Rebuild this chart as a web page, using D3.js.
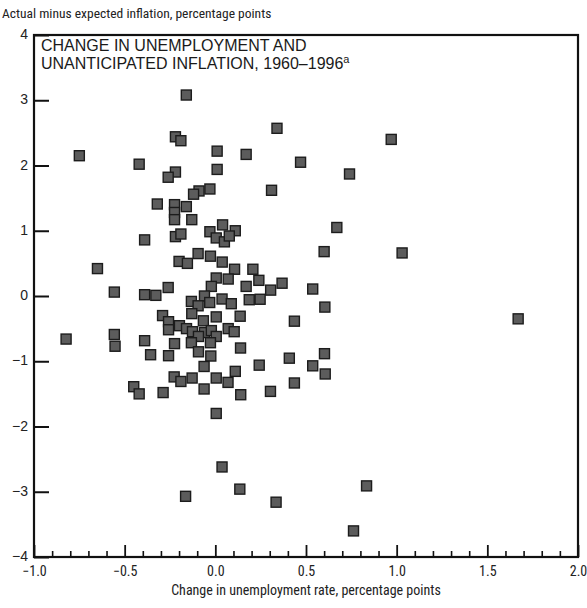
<!DOCTYPE html>
<html>
<head>
<meta charset="utf-8">
<script src="https://cdn.jsdelivr.net/npm/d3@7"></script>
<style>
  html, body { margin: 0; padding: 0; background: #fff; }
  svg { display: block; }
  .narrow { font-family: "Liberation Sans Narrow", "Roboto Condensed", "DejaVu Sans Condensed", "Liberation Sans", sans-serif; }
  .reg { font-family: "Liberation Sans", Arial, Helvetica, sans-serif; }
</style>
</head>
<body>
<svg id="chart" width="587" height="608"></svg>
<script>
// Quarterly change in unemployment rate (x) vs. actual minus expected inflation (y)
const unemploymentChange = [
  -0.16, 0.34, 0.97, -0.22, -0.19, -0.75, 0.01, 0.17, 0.47, -0.42,
  0.01, 0.74, -0.22, -0.26, -0.03, -0.09, -0.12, 0.31, -0.32, -0.225,
  -0.16, -0.225, -0.225, -0.13, 0.67, -0.39, -0.22, -0.19, 0.04, -0.03,
  0.11, 0.005, 0.05, 0.077, 0.60, 1.03, -0.65, -0.095, -0.027, -0.20,
  -0.154, 0.038, 0.106, 0.207, 0.005, 0.071, -0.022, 0.17, 0.24, 0.305,
  0.368, 0.537, -0.557, -0.39, -0.328, -0.26, -0.06, -0.132, -0.095, -0.031,
  0.037, 0.088, 0.187, 0.247, 0.604, -0.13, 0.137, 0.436, 1.67, -0.291,
  -0.258, -0.258, -0.198, -0.159, -0.126, -0.066, 0.005, -0.06, -0.022, 0.005,
  -0.093, -0.225, -0.132, -0.093, -0.027, 0.071, 0.104, -0.39, -0.357, -0.258,
  -0.025, 0.139, 0.408, 0.602, 0.537, 0.242, 0.606, 0.436, 0.11, 0.304,
  0.14, 0.07, 0.005, -0.062, -0.062, -0.128, -0.227, -0.19, -0.288, -0.45,
  -0.42, 0.005, 0.037, 0.135, -0.164, 0.335, 0.834, 0.762, -0.557, -0.553,
  -0.823
];
const inflationSurprise = [
  3.08, 2.57, 2.40, 2.44, 2.38, 2.15, 2.22, 2.17, 2.05, 2.02,
  1.94, 1.87, 1.90, 1.82, 1.64, 1.61, 1.56, 1.62, 1.41, 1.40,
  1.37, 1.28, 1.17, 1.17, 1.05, 0.86, 0.91, 0.95, 1.09, 0.985,
  1.00, 0.89, 0.83, 0.92, 0.68, 0.66, 0.42, 0.65, 0.61, 0.53,
  0.50, 0.52, 0.41, 0.41, 0.276, 0.26, 0.147, 0.147, 0.24, 0.09,
  0.196, 0.107, 0.06, 0.02, 0.01, 0.13, 0.0, -0.083, -0.15, -0.10,
  -0.046, -0.118, -0.057, -0.05, -0.17, -0.27, -0.31, -0.386, -0.35, -0.30,
  -0.394, -0.517, -0.455, -0.50, -0.547, -0.38, -0.32, -0.56, -0.53, -0.62,
  -0.62, -0.73, -0.716, -0.855, -0.716, -0.50, -0.547, -0.685, -0.90, -0.915,
  -0.92, -0.797, -0.953, -0.884, -1.07, -1.06, -1.195, -1.333, -1.155, -1.462,
  -1.513, -1.324, -1.257, -1.08, -1.425, -1.257, -1.24, -1.31, -1.48, -1.39,
  -1.50, -1.80, -2.62, -2.96, -3.07, -3.16, -2.91, -3.60, -0.59, -0.77,
  -0.66
];
const xMajorTicks = [-1.0, -0.5, 0.0, 0.5, 1.0, 1.5, 2.0];
const yMajorTicks = [-4, -3, -2, -1, 0, 1, 2, 3, 4];
const titleLines = ["CHANGE IN UNEMPLOYMENT AND", "UNANTICIPATED INFLATION, 1960\u20131996"];
const titleNote = "a";
const xAxisTitle = "Change in unemployment rate, percentage points";
const yAxisTitle = "Actual minus expected inflation, percentage points";

const points = unemploymentChange.map((u, i) => ({ x: u, y: inflationSurprise[i] }));

const svg = d3.select("#chart");
const plotLeft = 34, plotRight = 578, plotTop = 35, plotBottom = 557;

const x = d3.scaleLinear().domain([-1, 2]).range([plotLeft, plotRight]);
const y = d3.scaleLinear().domain([-4, 4]).range([plotBottom, plotTop]);

// minor x ticks every 0.1 (excluding the labelled half-unit ticks)
const xMinorTicks = d3.range(-10, 21).map(d => d / 10)
  .filter(v => Math.abs(v * 2 - Math.round(v * 2)) > 1e-6);

// points
const size = 10;
svg.append("g").selectAll("rect")
  .data(points)
  .join("rect")
  .attr("x", d => x(d.x) - size / 2)
  .attr("y", d => y(d.y) - size / 2)
  .attr("width", size)
  .attr("height", size)
  .attr("fill", "#5c5c5c")
  .attr("stroke", "#1c1c1c")
  .attr("stroke-width", 1.4);

// x axis: minor ticks
svg.append("g")
  .attr("transform", `translate(0,${plotBottom})`)
  .call(d3.axisBottom(x).tickValues(xMinorTicks).tickSize(-6).tickFormat(""))
  .call(g => g.select(".domain").remove())
  .call(g => g.selectAll(".tick line").attr("stroke", "#111").attr("stroke-width", 1.6));

// x axis: major ticks and labels
svg.append("g")
  .attr("transform", `translate(0,${plotBottom})`)
  .call(d3.axisBottom(x).tickValues(xMajorTicks).tickSize(-12).tickPadding(9).tickFormat(d3.format(".1f")))
  .call(g => g.select(".domain").remove())
  .call(g => g.selectAll(".tick line").attr("stroke", "#111").attr("stroke-width", 1.8))
  .call(g => g.selectAll(".tick text").attr("class", "narrow").attr("font-size", 14).attr("fill", "#222"));

// y axis
svg.append("g")
  .attr("transform", `translate(${plotLeft},0)`)
  .call(d3.axisLeft(y).tickValues(yMajorTicks).tickSize(-15).tickPadding(6).tickFormat(d3.format("d")))
  .call(g => g.select(".domain").remove())
  .call(g => g.selectAll(".tick line").attr("stroke", "#111").attr("stroke-width", 2))
  .call(g => g.selectAll(".tick text").attr("class", "reg").attr("font-size", 14).attr("fill", "#222")
    .attr("dy", "0.25em"));

// frame
svg.append("rect")
  .attr("x", plotLeft).attr("y", plotTop)
  .attr("width", plotRight - plotLeft).attr("height", plotBottom - plotTop)
  .attr("fill", "none").attr("stroke", "#111").attr("stroke-width", 2.2);

// title inside the frame
const title = svg.append("text").attr("class", "reg").attr("font-size", 16).attr("fill", "#1a1a1a");
title.append("tspan").attr("x", plotLeft + 7).attr("y", plotTop + 16).text(titleLines[0]);
title.append("tspan").attr("x", plotLeft + 7).attr("y", plotTop + 34).text(titleLines[1]);
title.append("tspan").attr("dy", -6).attr("font-size", 11).text(titleNote);

// axis titles
svg.append("text").attr("class", "narrow")
  .attr("x", 2).attr("y", 18)
  .attr("font-size", 13.5).attr("fill", "#222")
  .text(yAxisTitle);

svg.append("text").attr("class", "narrow")
  .attr("x", (plotLeft + plotRight) / 2).attr("y", 595)
  .attr("text-anchor", "middle")
  .attr("font-size", 14).attr("fill", "#222")
  .text(xAxisTitle);
</script>
</body>
</html>
